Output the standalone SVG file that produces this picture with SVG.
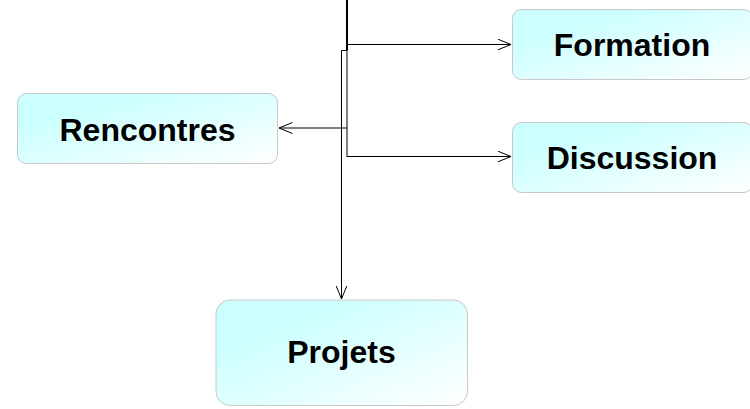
<svg xmlns="http://www.w3.org/2000/svg" width="750" height="409" viewBox="0 0 750 409">
<defs>
<linearGradient id="g" x1="0" y1="0" x2="1" y2="1">
<stop offset="0.25" stop-color="#ccffff"/>
<stop offset="1" stop-color="#ffffff"/>
</linearGradient>
<marker id="a" viewBox="0 0 14 12" refX="13.5" refY="6" markerWidth="14" markerHeight="12" markerUnits="userSpaceOnUse" orient="auto">
<path d="M0,0.5 L13.5,6 L0,11.5" fill="none" stroke="#000" stroke-width="1"/>
</marker>
<style>
.n{fill:url(#g);stroke:#c8c8c8;stroke-width:1}
.t{font-family:"Liberation Sans",Arial,sans-serif;font-weight:bold;font-size:32px;fill:#000;text-anchor:middle}
.c{fill:none;stroke:#000;stroke-width:1}
</style>
</defs>
<g id="connectors">
<line x1="347" y1="0" x2="347" y2="50" stroke="#000" stroke-width="2"/>
<path class="c" d="M347,50 V157"/>
<path class="c" d="M347,44.5 H511" marker-end="url(#a)"/>
<path class="c" d="M347,156.5 H511" marker-end="url(#a)"/>
<path class="c" d="M347,128 H279" marker-end="url(#a)"/>
<path class="c" d="M347,50.5 H341.5 V299" marker-end="url(#a)"/>
</g>
<g id="formation">
<rect class="n" x="512.5" y="9.5" width="240" height="70" rx="9"/>
<text class="t" x="632" y="56">Formation</text>
</g>
<g id="discussion">
<rect class="n" x="512.5" y="122.5" width="240" height="70" rx="9"/>
<text class="t" x="632" y="168.5">Discussion</text>
</g>
<g id="rencontres">
<rect class="n" x="17.5" y="93.5" width="260" height="70" rx="9"/>
<text class="t" x="147.5" y="140.5">Rencontres</text>
</g>
<g id="projets">
<rect class="n" x="216" y="300" width="251.5" height="105.5" rx="14"/>
<text class="t" x="341.5" y="362.5">Projets</text>
</g>
</svg>
